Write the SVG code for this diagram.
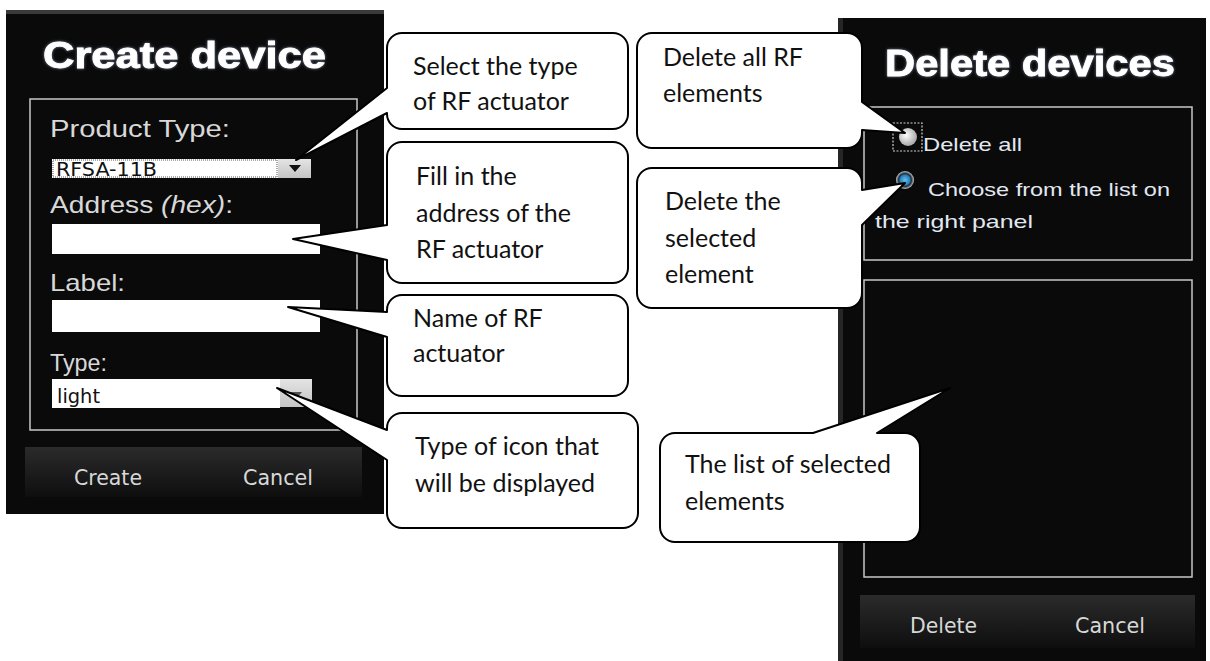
<svg xmlns="http://www.w3.org/2000/svg" width="1210" height="661" viewBox="0 0 1210 661">
<defs>
<linearGradient id="bar" x1="0" y1="0" x2="0" y2="1">
<stop offset="0" stop-color="#2b2b2b"/><stop offset="1" stop-color="#0e0e0e"/>
</linearGradient>
<linearGradient id="btn" x1="0" y1="0" x2="0" y2="1">
<stop offset="0" stop-color="#e4e4e4"/><stop offset="1" stop-color="#c4c4c4"/>
</linearGradient>
<radialGradient id="rad1" cx="0.4" cy="0.4" r="0.6">
<stop offset="0" stop-color="#ffffff"/><stop offset="1" stop-color="#a8a8a8"/>
</radialGradient>
<radialGradient id="rad2" cx="0.5" cy="0.5" r="0.5">
<stop offset="0" stop-color="#5fc3f0"/><stop offset="0.55" stop-color="#2a7fb8"/><stop offset="0.7" stop-color="#1a2a38"/><stop offset="1" stop-color="#c8c8c8"/>
</radialGradient>
<filter id="glow" x="-10%" y="-30%" width="120%" height="160%">
<feGaussianBlur in="SourceAlpha" stdDeviation="1.5" result="b"/>
<feFlood flood-color="#8899bb" flood-opacity="0.8"/>
<feComposite in2="b" operator="in" result="g"/>
<feMerge><feMergeNode in="g"/><feMergeNode in="SourceGraphic"/></feMerge>
</filter>
</defs>
<style>
.panel{fill:#0a0a0a}
.frame{fill:none;stroke:#c8c8c8;stroke-width:1.5}
.title{font-family:"Liberation Sans",Arial,sans-serif;font-weight:bold;font-size:36px;fill:#ffffff;stroke:#ffffff;stroke-width:0.8}
.lbl{font-family:"Liberation Sans",Arial,sans-serif;font-size:24px;fill:#d8d8d8}
.inp{fill:#ffffff}
.val{font-family:"DejaVu Sans Condensed","Liberation Sans",sans-serif;font-size:19px;fill:#111}
.btntxt{font-family:"DejaVu Sans Condensed","Liberation Sans",sans-serif;font-size:21px;fill:#d8d8d8}
.rtxt{font-family:"Liberation Sans",Arial,sans-serif;font-size:19px;fill:#e2e8f2}
.call{fill:#ffffff;stroke:#000;stroke-width:2;stroke-linejoin:round}
.ct{font-family:Lato,"Open Sans",sans-serif;font-size:25px;fill:#111}
</style>

<g id="create-panel">
<rect class="panel" x="6" y="10" width="378" height="504"/>
<rect x="6" y="10" width="378" height="4" fill="#3a3a3a"/>
<text class="title" x="43" y="68" textLength="283" lengthAdjust="spacingAndGlyphs" filter="url(#glow)">Create device</text>
<rect class="frame" x="30" y="99" width="327" height="331"/>
<text class="lbl" x="50" y="137" textLength="180" lengthAdjust="spacingAndGlyphs">Product Type:</text>
<rect class="inp" x="52" y="159" width="226" height="19"/>
<rect x="53" y="160" width="224" height="17" fill="none" stroke="#555" stroke-width="1" stroke-dasharray="1,1"/>
<text class="val" x="56" y="176" textLength="101" lengthAdjust="spacingAndGlyphs">RFSA-11B</text>
<rect x="278" y="159" width="33" height="19" fill="url(#btn)"/>
<path d="M289,165 L301,165 L295,172 Z" fill="#111"/>
<text class="lbl" x="50" y="213" textLength="183" lengthAdjust="spacingAndGlyphs">Address <tspan font-style="italic">(hex)</tspan>:</text>
<rect class="inp" x="52" y="224" width="268" height="30"/>
<text class="lbl" x="50" y="291" textLength="75" lengthAdjust="spacingAndGlyphs">Label:</text>
<rect class="inp" x="52" y="300" width="268" height="32"/>
<text class="lbl" x="50" y="371" textLength="57" lengthAdjust="spacingAndGlyphs">Type:</text>
<rect class="inp" x="52" y="379" width="228" height="29"/>
<text class="val" x="57" y="403" textLength="43" lengthAdjust="spacingAndGlyphs">light</text>
<rect x="280" y="379" width="32" height="28" fill="url(#btn)"/>
<path d="M290,392 L302,392 L296,399 Z" fill="#555"/>
<rect x="25" y="447" width="337" height="50" fill="url(#bar)"/>
<text class="btntxt" x="74" y="485" textLength="68" lengthAdjust="spacingAndGlyphs">Create</text>
<text class="btntxt" x="243" y="485" textLength="70" lengthAdjust="spacingAndGlyphs">Cancel</text>
</g>

<g id="delete-panel">
<rect class="panel" x="838" y="18" width="368" height="643"/>
<rect x="838" y="18" width="5" height="643" fill="#262626"/>
<text class="title" x="885" y="76" textLength="290" lengthAdjust="spacingAndGlyphs" filter="url(#glow)">Delete devices</text>
<rect class="frame" x="864" y="107" width="328" height="153"/>
<rect x="893" y="123" width="29" height="28" fill="none" stroke="#cfcfcf" stroke-width="1.2" stroke-dasharray="2,1.5"/>
<circle cx="908" cy="137" r="9" fill="url(#rad1)"/>
<text class="rtxt" x="923" y="151" textLength="99" lengthAdjust="spacingAndGlyphs">Delete all</text>
<circle cx="905" cy="180" r="9" fill="url(#rad2)"/>
<text class="rtxt" x="928" y="196" textLength="242" lengthAdjust="spacingAndGlyphs">Choose from the list on</text>
<text class="rtxt" x="875" y="228" textLength="158" lengthAdjust="spacingAndGlyphs">the right panel</text>
<rect class="frame" x="864" y="280" width="328" height="297"/>
<rect x="860" y="595" width="335" height="53" fill="url(#bar)"/>
<text class="btntxt" x="910" y="633" textLength="67" lengthAdjust="spacingAndGlyphs">Delete</text>
<text class="btntxt" x="1075" y="633" textLength="70" lengthAdjust="spacingAndGlyphs">Cancel</text>
</g>

<g id="callout-select-type">
<path class="call" d="M402,33 H613 A15,15 0 0 1 628,48 V114 A15,15 0 0 1 613,129 H402 A15,15 0 0 1 387,114 V113 L296,160 L387,88 V48 A15,15 0 0 1 402,33 Z"/>
<text class="ct" x="413" y="75">Select the type</text>
<text class="ct" x="413" y="110">of RF actuator</text>
</g>

<g id="callout-address">
<path class="call" d="M402,142 H613 A15,15 0 0 1 628,157 V268 A15,15 0 0 1 613,283 H402 A15,15 0 0 1 387,268 V260 L293,239 L387,225 V157 A15,15 0 0 1 402,142 Z"/>
<text class="ct" x="416" y="185">Fill in the</text>
<text class="ct" x="416" y="222">address of the</text>
<text class="ct" x="416" y="258">RF actuator</text>
</g>

<g id="callout-name">
<path class="call" d="M402,295 H613 A15,15 0 0 1 628,310 V381 A15,15 0 0 1 613,396 H402 A15,15 0 0 1 387,381 V337 L288,307 L387,312 V310 A15,15 0 0 1 402,295 Z"/>
<text class="ct" x="413" y="327">Name of RF</text>
<text class="ct" x="413" y="362">actuator</text>
</g>

<g id="callout-icon-type">
<path class="call" d="M402,413 H623 A15,15 0 0 1 638,428 V513 A15,15 0 0 1 623,528 H402 A15,15 0 0 1 387,513 V460 L277,388 L387,430 V428 A15,15 0 0 1 402,413 Z"/>
<text class="ct" x="415" y="455">Type of icon that</text>
<text class="ct" x="415" y="492">will be displayed</text>
</g>

<g id="callout-delete-all">
<path class="call" d="M652,33 H847 A15,15 0 0 1 862,48 V102 L905,133 L862,130 V133 A15,15 0 0 1 847,148 H652 A15,15 0 0 1 637,133 V48 A15,15 0 0 1 652,33 Z"/>
<text class="ct" x="663" y="66">Delete all RF</text>
<text class="ct" x="663" y="102">elements</text>
</g>

<g id="callout-delete-selected">
<path class="call" d="M652,168 H847 A15,15 0 0 1 862,183 V190 L905,183 L862,225 V293 A15,15 0 0 1 847,308 H652 A15,15 0 0 1 637,293 V183 A15,15 0 0 1 652,168 Z"/>
<text class="ct" x="665" y="210">Delete the</text>
<text class="ct" x="665" y="247">selected</text>
<text class="ct" x="665" y="283">element</text>
</g>

<g id="callout-list">
<path class="call" d="M675,433 H813 L950,388 L877,433 H905 A15,15 0 0 1 920,448 V527 A15,15 0 0 1 905,542 H675 A15,15 0 0 1 660,527 V448 A15,15 0 0 1 675,433 Z"/>
<text class="ct" x="685" y="473">The list of selected</text>
<text class="ct" x="685" y="510">elements</text>
</g>
</svg>
